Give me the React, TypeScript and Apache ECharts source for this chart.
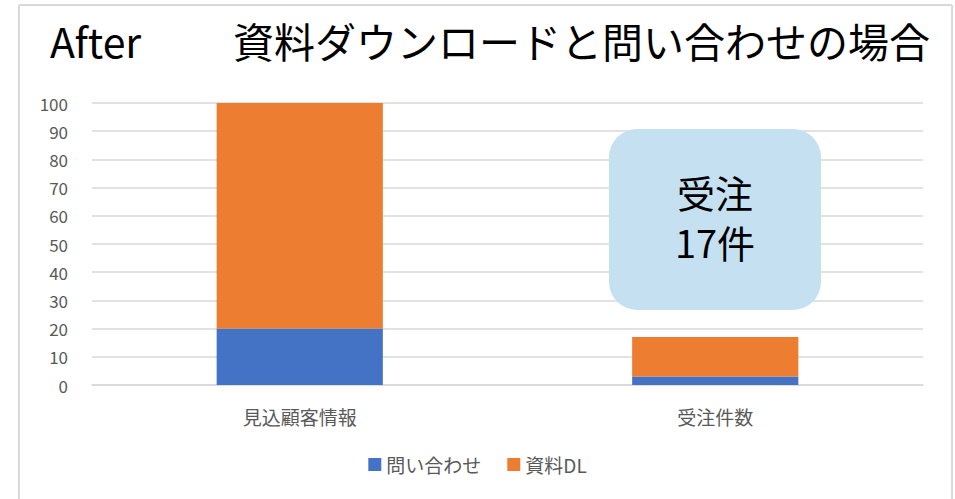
import React, { useEffect, useRef } from "react";
import * as echarts from "echarts";

const titleLeft = "After";
const titleRight = "資料ダウンロードと問い合わせの場合";
const categories = ["見込顧客情報", "受注件数"];
const seriesNames = ["問い合わせ", "資料DL"];
const inquiryValues = [20, 3];
const downloadValues = [80, 14];
const calloutLines = ["受注", "17件"];
const yMin = 0;
const yMax = 100;
const yInterval = 10;

const FONT = '"Noto Sans CJK JP", "Noto Sans", sans-serif';

export default function App() {
  const ref = useRef<HTMLDivElement>(null);
  useEffect(() => {
    if (!ref.current) return;
    const chart = echarts.init(ref.current, undefined, { renderer: "svg" });
    chart.setOption({
      animation: false,
      backgroundColor: "#ffffff",
      textStyle: { fontFamily: FONT },
      grid: { left: 92, right: 32, top: 103, bottom: 114 },
      legend: {
        bottom: 20,
        left: "center",
        itemWidth: 13,
        itemHeight: 13,
        itemGap: 26,
        icon: "rect",
        textStyle: { fontSize: 19, color: "#595959", fontFamily: FONT },
        data: seriesNames,
      },
      xAxis: {
        type: "category",
        data: categories,
        axisLine: { show: true, lineStyle: { color: "#d9d9d9", width: 1.5 } },
        axisTick: { show: false },
        axisLabel: { fontSize: 19, color: "#595959", margin: 22, fontFamily: FONT },
      },
      yAxis: {
        type: "value",
        min: yMin,
        max: yMax,
        interval: yInterval,
        axisLine: { show: false },
        axisTick: { show: false },
        splitLine: { lineStyle: { color: "#d9d9d9", width: 1.5 } },
        axisLabel: { fontSize: 17, color: "#595959", margin: 24, fontFamily: FONT },
      },
      series: [
        {
          name: seriesNames[0],
          type: "bar",
          stack: "total",
          data: inquiryValues,
          barWidth: "40%",
          itemStyle: { color: "#4472C4" },
        },
        {
          name: seriesNames[1],
          type: "bar",
          stack: "total",
          data: downloadValues,
          barWidth: "40%",
          itemStyle: { color: "#ED7D31" },
        },
      ],
      graphic: [
        { type: "line", shape: { x1: 19, y1: 5, x2: 952, y2: 5 }, style: { stroke: "#d9d9d9", lineWidth: 2 } },
        { type: "line", shape: { x1: 19, y1: 5, x2: 19, y2: 499 }, style: { stroke: "#d9d9d9", lineWidth: 2 } },
        { type: "line", shape: { x1: 952, y1: 5, x2: 952, y2: 499 }, style: { stroke: "#d9d9d9", lineWidth: 2 } },
        {
          type: "text",
          left: 50,
          top: 19,
          style: { text: titleLeft, fontSize: 41, fill: "#000000", fontFamily: FONT },
        },
        {
          type: "text",
          left: 233,
          top: 19,
          style: { text: titleRight, fontSize: 41, fill: "#000000", fontFamily: FONT },
        },
        {
          type: "rect",
          shape: { x: 609, y: 129, width: 212, height: 181, r: 28 },
          style: { fill: "#C5E1F1" },
          z: 100,
        },
        ...calloutLines.map((line, i) => ({
          type: "text",
          x: 715,
          y: 191 + i * 50,
          z: 101,
          style: {
            text: line,
            fontSize: 38,
            fill: "#000000",
            align: "center",
            verticalAlign: "middle",
            fontFamily: FONT,
          },
        })),
      ],
    });
    return () => chart.dispose();
  }, []);
  return (
    <div
      ref={ref}
      style={{ position: "fixed", left: 0, top: 0, width: 955, height: 499 }}
    />
  );
}
